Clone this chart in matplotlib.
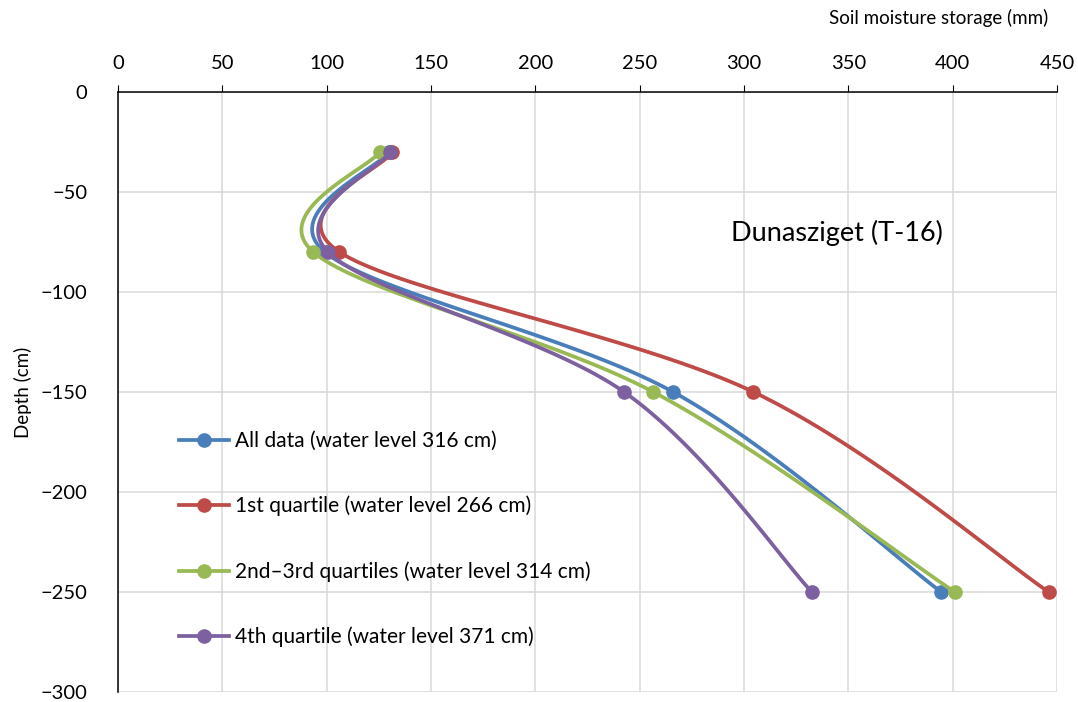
import numpy as np
import matplotlib.pyplot as plt

plt.rcParams["font.family"] = ["Lato", "DejaVu Sans"]

depth = [-30, -80, -150, -250]
all_data = [130, 99, 266, 394.5]
q1 = [131.5, 106, 304.5, 446]
q23 = [125.5, 93.5, 256.5, 401]
q4 = [130.5, 100.5, 242.5, 332.5]

labels = [
    "All data (water level 316 cm)",
    "1st quartile (water level 266 cm)",
    "2nd\u20133rd quartiles (water level 314 cm)",
    "4th quartile (water level 371 cm)",
]
colors = ["#4A7EBB", "#BE4B48", "#98B954", "#7D60A0"]


def smooth(xs, ys, n=40):
    # Excel-style smoothed line: cubic Bezier through the points
    p = np.column_stack([xs, ys]).astype(float)
    p = np.vstack([p[0], p, p[-1]])
    out = []
    t = np.linspace(0, 1, n)[:, None]
    for i in range(1, len(p) - 2):
        a, d = p[i], p[i + 1]
        b = a + (p[i + 1] - p[i - 1]) / 6
        c = d - (p[i + 2] - p[i]) / 6
        seg = (1 - t) ** 3 * a + 3 * (1 - t) ** 2 * t * b + 3 * (1 - t) * t ** 2 * c + t ** 3 * d
        out.append(seg)
    out = np.vstack(out)
    return out[:, 0], out[:, 1]


fig = plt.figure(figsize=(10.78, 7.02), dpi=100)
ax = fig.add_axes([0.1095, 0.0142, 0.871, 0.855])

for vals, lab, col in zip([all_data, q1, q23, q4], labels, colors):
    sx, sy = smooth(vals, depth)
    ax.plot(sx, sy, color=col, linewidth=2.7, solid_capstyle="round")
    ax.plot(vals, depth, "o", color=col, markersize=9.5)
    ax.plot([], [], color=col, linewidth=2.7, marker="o", markersize=9.5, label=lab)

ax.set_xlim(0, 450)
ax.set_ylim(-300, 0)
ax.set_xticks(range(0, 451, 50))
ax.set_yticks(range(-300, 1, 50))
ax.xaxis.tick_top()
ax.tick_params(labelsize=14.5, length=5, color="black", pad=9)
ax.tick_params(axis="y", length=0, pad=22)
ax.grid(True, color="#D9D9D9", linewidth=1.1)
ax.set_axisbelow(True)
for s in ["right", "bottom"]:
    ax.spines[s].set_visible(False)
ax.spines["top"].set_linewidth(1.1)
ax.spines["left"].set_linewidth(1.1)

fig.text(0.972, 0.974, "Soil moisture storage (mm)", ha="right", va="center", fontsize=13.5)
ax.set_ylabel("Depth (cm)", fontsize=13.5, labelpad=6)
ax.text(0.7655, 0.765, "Dunasziget (T-16)", transform=ax.transAxes, ha="center", va="center", fontsize=19.5)

ax.legend(loc="upper left", bbox_to_anchor=(0.045, 0.466), frameon=False, fontsize=15,
          handlelength=2.4, labelspacing=2.15, numpoints=1, handletextpad=0.3)

plt.savefig("out.png", dpi=100)
